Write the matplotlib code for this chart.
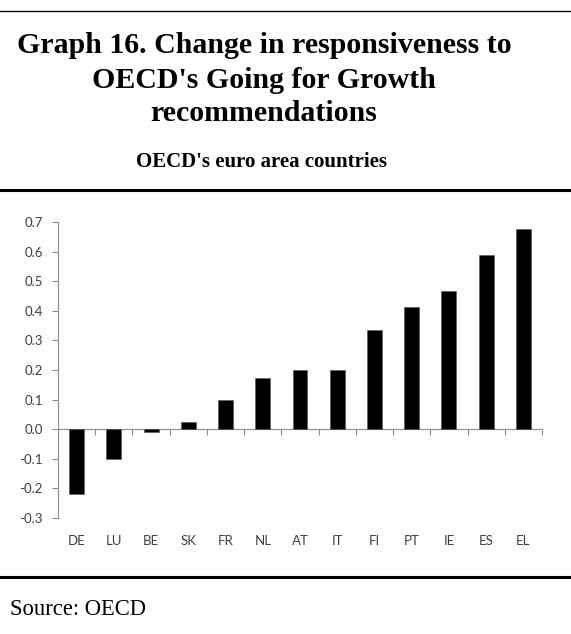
import numpy as np
import matplotlib.pyplot as plt
from matplotlib.lines import Line2D

# responsiveness change by country (sorted ascending)
countries = ["DE", "LU", "BE", "SK", "FR", "NL", "AT", "IT", "FI", "PT", "IE", "ES", "EL"]
change = [-0.22, -0.10, -0.01, 0.025, 0.10, 0.173, 0.20, 0.20, 0.334, 0.413, 0.466, 0.589, 0.677]
yticks = [-0.3, -0.2, -0.1, 0.0, 0.1, 0.2, 0.3, 0.4, 0.5, 0.6, 0.7]

W, H, DPI = 571, 634, 100
fig = plt.figure(figsize=(W / DPI, H / DPI), dpi=DPI)

serif = "Liberation Serif"
axis_grey = "#8c8c8c"
label_col = "#404040"

# headline block
fig.text(0.4625, 1 - 53 / H, "Graph 16. Change in responsiveness to", ha="center", va="baseline",
         fontfamily=serif, fontweight="bold", fontsize=21.5)
fig.text(0.4625, 1 - 88 / H, "OECD's Going for Growth", ha="center", va="baseline",
         fontfamily=serif, fontweight="bold", fontsize=21.5)
fig.text(0.4625, 1 - 121 / H, "recommendations", ha="center", va="baseline",
         fontfamily=serif, fontweight="bold", fontsize=21.5)
fig.text(136 / W, 1 - 167 / H, "OECD's euro area countries", ha="left", va="baseline",
         fontfamily=serif, fontweight="bold", fontsize=15)
fig.text(10 / W, 1 - 615 / H, "Source: OECD", ha="left", va="baseline",
         fontfamily=serif, fontsize=16.3)

# separator rules
for yy, lw in [(10.7, 1.0), (190, 2.2), (576.5, 2.2)]:
    fig.add_artist(Line2D([0, 1], [1 - yy / H] * 2, color="black", lw=lw,
                          transform=fig.transFigure))

ax = fig.add_axes([58 / W, 1 - 518 / H, 484 / W, 296 / H])
x = np.arange(len(countries))
ax.bar(x, change, width=0.4, color="black", edgecolor="#555555", linewidth=0.4, zorder=3)

ax.set_xlim(-0.5, len(countries) - 0.5)
ax.set_ylim(-0.3, 0.7)
ax.set_yticks(yticks)
ax.set_yticklabels([f"{v:.1f}" for v in yticks])

# category labels at the bottom, zero line with boundary ticks via the top spine
ax.set_xticks(x)
ax.set_xticklabels(countries)
ax.set_xticks(np.arange(len(countries) + 1) - 0.5, minor=True)
ax.tick_params(axis="x", which="major", bottom=True, top=False, length=0, pad=12,
               labelsize=9.5, labelcolor=label_col)
ax.tick_params(axis="x", which="minor", bottom=False, top=True, direction="in",
               length=4, color=axis_grey, width=0.8)
ax.tick_params(axis="y", length=4, color=axis_grey, width=0.8, labelsize=9.5,
               labelcolor=label_col, pad=7)

ax.spines["top"].set_position(("data", 0))
ax.spines["top"].set_color(axis_grey)
ax.spines["left"].set_color(axis_grey)
ax.spines["bottom"].set_visible(False)
ax.spines["right"].set_visible(False)

for lab in ax.get_xticklabels() + ax.get_yticklabels():
    lab.set_fontfamily("Lato")

fig.savefig("out.png", dpi=DPI)
